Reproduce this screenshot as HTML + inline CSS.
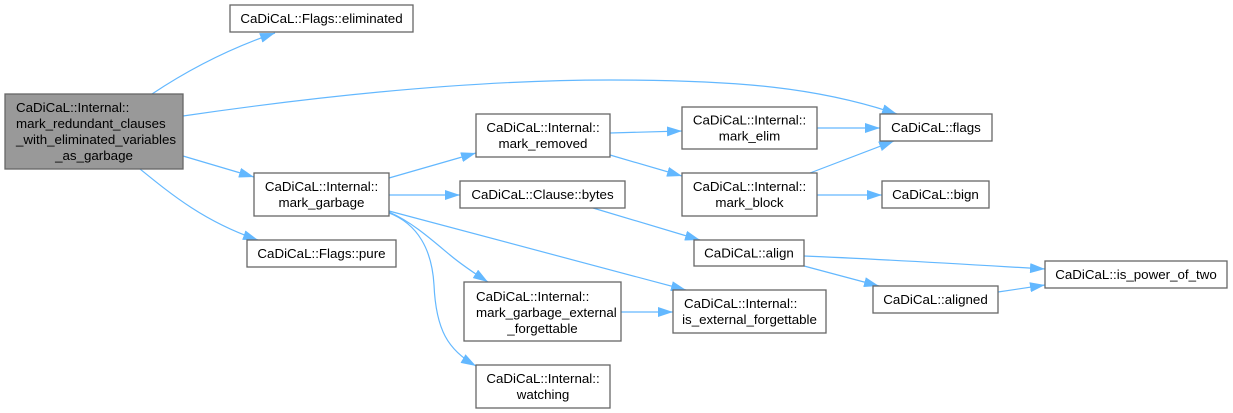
<!DOCTYPE html>
<html>
<head>
<meta charset="utf-8">
<style>
  html, body { margin: 0; padding: 0; background: #ffffff; }
  body { width: 1233px; height: 413px; overflow: hidden; }
  svg { display: block; }
  text { font-family: "Liberation Sans", Arial, sans-serif; font-size: 13.33px; fill: #000; }
  .n { fill: #ffffff; stroke: #666666; stroke-width: 1.3; }
  .e { fill: none; stroke: #63b8ff; stroke-width: 1.2; }
</style>
</head>
<body>
<svg width="1233" height="413" viewBox="0 0 1233 413" xmlns="http://www.w3.org/2000/svg">
  <defs>
    <marker id="a" viewBox="0 0 15 10" refX="15" refY="5" markerWidth="15" markerHeight="10" markerUnits="userSpaceOnUse" orient="auto">
      <path d="M0,0 L15,5 L0,10 z" fill="#63b8ff"/>
    </marker>
  </defs>

  <!-- Edges -->
  <path class="e" marker-end="url(#a)" d="M152,94 C185,72 225,50 275,33"/>
  <path class="e" marker-end="url(#a)" d="M183,116 C320,96 470,80 610,80 C740,80 820,88 897,114"/>
  <path class="e" marker-end="url(#a)" d="M183,156 L254,177"/>
  <path class="e" marker-end="url(#a)" d="M140,169 C172,195 205,222 258,240"/>
  <path class="e" marker-end="url(#a)" d="M389,178 L476,153"/>
  <path class="e" marker-end="url(#a)" d="M389,195 L460,195"/>
  <path class="e" marker-end="url(#a)" d="M389,211 L686,290"/>
  <path class="e" marker-end="url(#a)" d="M389,212 C412,222 432,240 450,255 C462,265 474,273 488,282"/>
  <path class="e" marker-end="url(#a)" d="M389,213 C418,224 432,250 434,285 C436,330 448,350 476,366"/>
  <path class="e" marker-end="url(#a)" d="M610,133 L682,131"/>
  <path class="e" marker-end="url(#a)" d="M610,155 L682,176"/>
  <path class="e" marker-end="url(#a)" d="M817,128 L880,128"/>
  <path class="e" marker-end="url(#a)" d="M810,173 L894,141"/>
  <path class="e" marker-end="url(#a)" d="M817,195 L882,195"/>
  <path class="e" marker-end="url(#a)" d="M593,208 L700,240"/>
  <path class="e" marker-end="url(#a)" d="M804,256 C880,259 960,264 1045,269"/>
  <path class="e" marker-end="url(#a)" d="M804,266 L879,286"/>
  <path class="e" marker-end="url(#a)" d="M998,292 L1045,285"/>
  <path class="e" marker-end="url(#a)" d="M621,312 L673,312"/>

  <!-- Nodes -->
  <rect x="5" y="94" width="178" height="75" fill="#999999" stroke="#666666" stroke-width="1.3"/>
  <text x="16" y="112">CaDiCaL::Internal::</text>
  <text x="16" y="128">mark_redundant_clauses</text>
  <text x="16" y="144">_with_eliminated_variables</text>
  <text x="94" y="160" text-anchor="middle">_as_garbage</text>

  <rect class="n" x="230" y="5" width="183" height="27"/>
  <text x="321.5" y="23" text-anchor="middle">CaDiCaL::Flags::eliminated</text>

  <rect class="n" x="880" y="114" width="112" height="27"/>
  <text x="936" y="132" text-anchor="middle">CaDiCaL::flags</text>

  <rect class="n" x="254" y="173" width="135" height="43"/>
  <text x="321.5" y="191" text-anchor="middle">CaDiCaL::Internal::</text>
  <text x="321.5" y="207" text-anchor="middle">mark_garbage</text>

  <rect class="n" x="247" y="240" width="149" height="27"/>
  <text x="321.5" y="258" text-anchor="middle">CaDiCaL::Flags::pure</text>

  <rect class="n" x="476" y="114" width="134" height="43"/>
  <text x="543" y="132" text-anchor="middle">CaDiCaL::Internal::</text>
  <text x="543" y="148" text-anchor="middle">mark_removed</text>

  <rect class="n" x="460" y="181" width="165" height="27"/>
  <text x="542.5" y="199" text-anchor="middle">CaDiCaL::Clause::bytes</text>

  <rect class="n" x="464" y="282" width="157" height="59"/>
  <text x="476" y="301">CaDiCaL::Internal::</text>
  <text x="476" y="317">mark_garbage_external</text>
  <text x="542.5" y="333" text-anchor="middle">_forgettable</text>

  <rect class="n" x="476" y="365" width="134" height="43"/>
  <text x="543" y="383" text-anchor="middle">CaDiCaL::Internal::</text>
  <text x="543" y="399" text-anchor="middle">watching</text>

  <rect class="n" x="682" y="107" width="135" height="42"/>
  <text x="749.5" y="124.5" text-anchor="middle">CaDiCaL::Internal::</text>
  <text x="749.5" y="140.5" text-anchor="middle">mark_elim</text>

  <rect class="n" x="682" y="173" width="135" height="43"/>
  <text x="749.5" y="191" text-anchor="middle">CaDiCaL::Internal::</text>
  <text x="749.5" y="207" text-anchor="middle">mark_block</text>

  <rect class="n" x="694" y="240" width="110" height="26"/>
  <text x="749" y="257.5" text-anchor="middle">CaDiCaL::align</text>

  <rect class="n" x="673" y="290" width="153" height="43"/>
  <text x="684" y="308">CaDiCaL::Internal::</text>
  <text x="749.5" y="324" text-anchor="middle">is_external_forgettable</text>

  <rect class="n" x="882" y="181" width="107" height="27"/>
  <text x="935.5" y="199" text-anchor="middle">CaDiCaL::bign</text>

  <rect class="n" x="1045" y="261" width="182" height="27"/>
  <text x="1136" y="279" text-anchor="middle">CaDiCaL::is_power_of_two</text>

  <rect class="n" x="873" y="286" width="125" height="27"/>
  <text x="935.5" y="304" text-anchor="middle">CaDiCaL::aligned</text>
</svg>
</body>
</html>
